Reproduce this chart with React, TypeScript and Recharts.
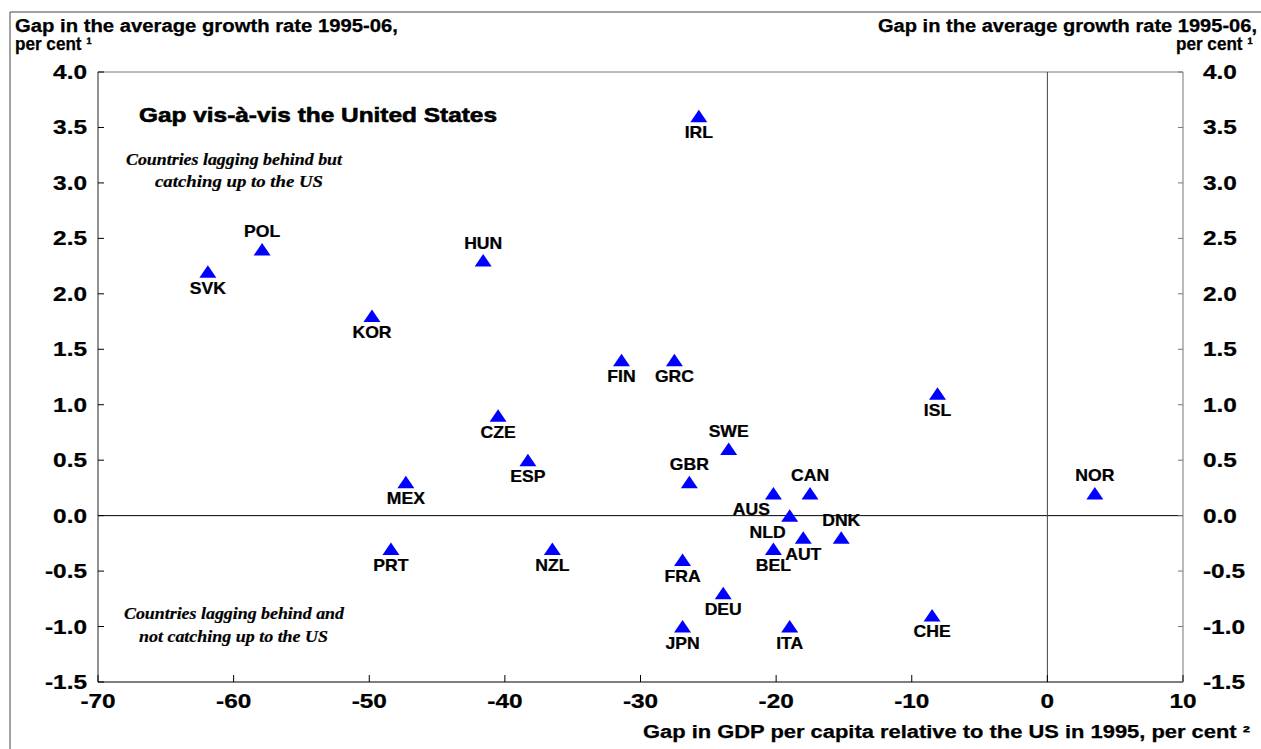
import React from 'react';
import { ScatterChart, Scatter, XAxis, YAxis, ReferenceLine } from 'recharts';

const countries = ['IRL', 'POL', 'SVK', 'HUN', 'KOR', 'FIN', 'GRC', 'ISL', 'CZE', 'SWE', 'ESP', 'MEX', 'GBR', 'AUS', 'CAN', 'NOR', 'NLD', 'DNK', 'AUT', 'BEL', 'PRT', 'NZL', 'FRA', 'DEU', 'JPN', 'ITA', 'CHE'];
const gdpGap = [-25.7, -57.9, -61.9, -41.6, -49.8, -31.4, -27.5, -8.1, -40.5, -23.5, -38.3, -47.3, -26.4, -20.2, -17.5, 3.5, -19.0, -15.2, -18.0, -20.2, -48.4, -36.5, -26.9, -23.9, -26.9, -19.0, -8.5];
const growthGap = [3.6, 2.4, 2.2, 2.3, 1.8, 1.4, 1.4, 1.1, 0.9, 0.6, 0.5, 0.3, 0.3, 0.2, 0.2, 0.2, 0.0, -0.2, -0.2, -0.3, -0.3, -0.3, -0.4, -0.7, -1.0, -1.0, -0.9];
const xTicks = [-70, -60, -50, -40, -30, -20, -10, 0, 10];
const yTicks = [-1.5, -1.0, -0.5, 0.0, 0.5, 1.0, 1.5, 2.0, 2.5, 3.0, 3.5, 4.0];

const labelsAbove = ['POL', 'HUN', 'SWE', 'GBR', 'CAN', 'NOR', 'DNK'];
const labelsShiftedLeft = ['AUS', 'NLD'];

const data = countries.map((name, i) => ({ name, x: gdpGap[i], y: growthGap[i] }));

const SANS = '"Liberation Sans", Arial, Helvetica, sans-serif';
const SERIF = '"Liberation Serif", "Times New Roman", serif';
const SX = 1.22;

const PointShape = (props: any) => {
  const { cx, cy, payload } = props;
  if (cx == null || cy == null) return null;
  const name = payload?.name ?? '';
  const above = labelsAbove.includes(name);
  const dx = labelsShiftedLeft.includes(name) ? -22 : 0;
  const ty = above ? cy - 12 : cy + 22;
  return (
    <g>
      <polygon points={`${cx},${cy - 6.5} ${cx + 8.5},${cy + 6} ${cx - 8.5},${cy + 6}`} fill="#0000FF" />
      <text
        transform={`translate(${cx + dx},${ty}) scale(1.1,1)`}
        textAnchor="middle"
        fontSize={16}
        fontWeight="bold"
        fontFamily={SANS}
        fill="#000"
        stroke="#000"
        strokeWidth={0.25}
      >
        {name}
      </text>
    </g>
  );
};

const XTick = (props: any) => {
  const { x, y, payload } = props;
  return (
    <g>
      <line x1={x} x2={x} y1={y} y2={y - 7} stroke="#000" strokeWidth={1} />
      <text transform={`translate(${x},${y + 26}) scale(${SX},1)`} textAnchor="middle" fontSize={20} fontWeight="bold" fontFamily={SANS} fill="#000" stroke="#000" strokeWidth={0.25}>
        {String(payload.value)}
      </text>
    </g>
  );
};

const LeftTick = (props: any) => {
  const { x, y, payload } = props;
  return (
    <g>
      <line x1={x} x2={x + 6} y1={y} y2={y} stroke="#000" strokeWidth={1} />
      <text transform={`translate(${x - 11},${y + 7}) scale(${SX},1)`} textAnchor="end" fontSize={20} fontWeight="bold" fontFamily={SANS} fill="#000" stroke="#000" strokeWidth={0.25}>
        {Number(payload.value).toFixed(1)}
      </text>
    </g>
  );
};

const RightTick = (props: any) => {
  const { x, y, payload } = props;
  return (
    <g>
      <line x1={x} x2={x - 5} y1={y} y2={y} stroke="#777" strokeWidth={1} />
      <text transform={`translate(${x + 20},${y + 7}) scale(${SX},1)`} textAnchor="start" fontSize={20} fontWeight="bold" fontFamily={SANS} fill="#000" stroke="#000" strokeWidth={0.25}>
        {Number(payload.value).toFixed(1)}
      </text>
    </g>
  );
};

const T = (p: { x: number; y: number; w: number; size: number; italic?: boolean; serif?: boolean; heavy?: number; children: React.ReactNode }) => (
  <text
    x={p.x}
    y={p.y}
    textLength={p.w}
    lengthAdjust="spacingAndGlyphs"
    fontSize={p.size}
    fontWeight="bold"
    fontStyle={p.italic ? 'italic' : 'normal'}
    fontFamily={p.serif ? SERIF : SANS}
    fill="#000"
    stroke="#000"
    strokeWidth={p.heavy ?? 0.25}
  >
    {p.children}
  </text>
);

export default function App() {
  return (
    <div style={{ position: 'absolute', left: 0, top: 0, width: 1261, height: 749, background: '#fff', overflow: 'hidden' }}>
      <ScatterChart width={1261} height={749} margin={{ top: 72, right: 8, bottom: 27, left: 18 }}>
        <XAxis
          type="number"
          dataKey="x"
          domain={[-70, 10]}
          ticks={xTicks}
          interval={0}
          allowDataOverflow
          tickLine={false}
          tickSize={0}
          tickMargin={0}
          height={40}
          axisLine={{ stroke: '#000', strokeWidth: 1.2 }}
          tick={(p: any) => <XTick {...p} />}
        />
        <YAxis
          yAxisId="left"
          type="number"
          dataKey="y"
          domain={[-1.5, 4]}
          ticks={yTicks}
          interval={0}
          allowDataOverflow
          tickLine={false}
          tickSize={0}
          tickMargin={0}
          width={80}
          axisLine={{ stroke: '#222', strokeWidth: 1 }}
          tick={(p: any) => <LeftTick {...p} />}
        />
        <YAxis
          yAxisId="right"
          orientation="right"
          type="number"
          domain={[-1.5, 4]}
          ticks={yTicks}
          interval={0}
          allowDataOverflow
          tickLine={false}
          tickSize={0}
          tickMargin={0}
          width={70}
          axisLine={{ stroke: '#777', strokeWidth: 1 }}
          tick={(p: any) => <RightTick {...p} />}
        />
        <ReferenceLine yAxisId="left" y={4} stroke="#777" strokeWidth={1} />
        <ReferenceLine yAxisId="left" y={0} stroke="#000" strokeWidth={1} />
        <ReferenceLine yAxisId="left" x={0} stroke="#444" strokeWidth={1} />
        <Scatter yAxisId="left" data={data} isAnimationActive={false} shape={(p: any) => <PointShape {...p} />} />
      </ScatterChart>
      <svg width={1261} height={749} style={{ position: 'absolute', left: 0, top: 0, pointerEvents: 'none' }}>
        <line x1={10} x2={10} y1={12} y2={749} stroke="#444" strokeWidth={1} />
        <line x1={10} x2={1261} y1={12} y2={12} stroke="#444" strokeWidth={1} />
        <T x={15} y={32} w={383} size={17.5}>Gap in the average growth rate 1995-06,</T>
        <T x={15} y={50} w={77} size={17.5}>per cent ¹</T>
        <T x={878} y={32} w={379} size={17.5}>Gap in the average growth rate 1995-06,</T>
        <T x={1176} y={50} w={77} size={17.5}>per cent ¹</T>
        <T x={643} y={738} w={607} size={17.5}>Gap in GDP per capita relative to the US in 1995, per cent ²</T>
        <T x={139} y={122} w={358} size={21} heavy={0.6}>Gap vis-à-vis the United States</T>
        <T x={126} y={165} w={216} size={16.5} italic serif heavy={0.2}>Countries lagging behind but</T>
        <T x={155} y={187} w={168} size={16.5} italic serif heavy={0.2}>catching up to the US</T>
        <T x={124} y={619} w={220} size={16.5} italic serif heavy={0.2}>Countries lagging behind and</T>
        <T x={139} y={642} w={189} size={16.5} italic serif heavy={0.2}>not catching up to the US</T>
      </svg>
    </div>
  );
}
